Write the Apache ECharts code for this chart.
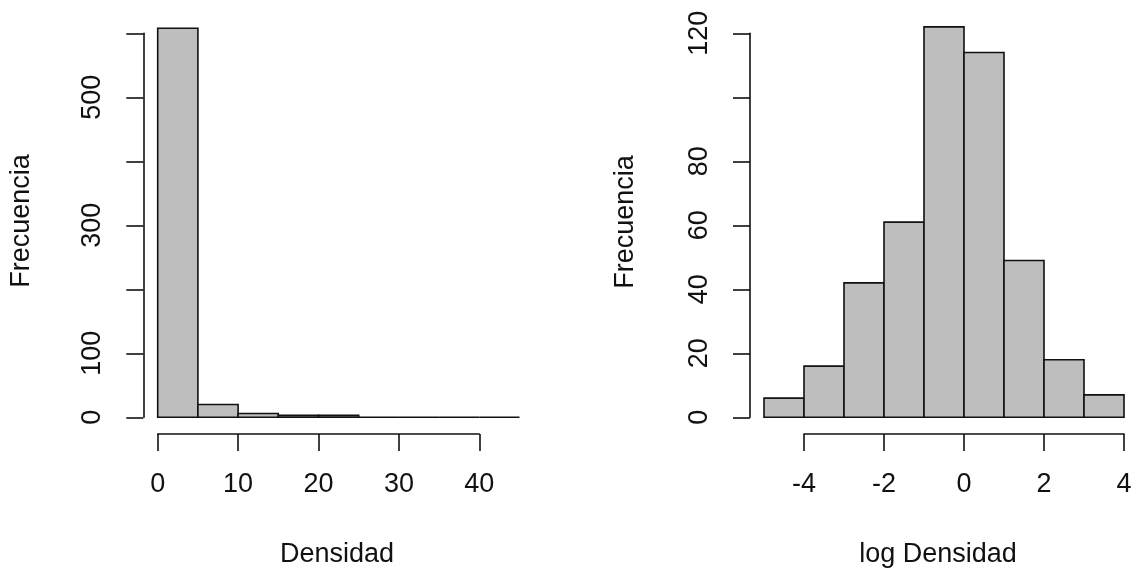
<!DOCTYPE html>
<html>
<head>
<meta charset="utf-8">
<script src="https://cdn.jsdelivr.net/npm/echarts@6/dist/echarts.min.js"></script>
<style>
  html, body { margin: 0; padding: 0; background: #fff; }
  #chart { width: 1135px; height: 576px; }
</style>
</head>
<body>
<div id="chart"></div>
<script>
// Histogram of Densidad (bin edges and counts)
const densBreaks = [0, 5, 10, 15, 20, 25, 30, 35, 40, 45];
const densCounts = [608, 20, 6, 3, 3, 0, 0, 0, 0];
const densXTicks = [0, 10, 20, 30, 40];
const densYTicks = [0, 100, 300, 500];

// Histogram of log Densidad
const logBreaks = [-5, -4, -3, -2, -1, 0, 1, 2, 3, 4];
const logCounts = [6, 16, 42, 61, 122, 114, 49, 18, 7];
const logXTicks = [-4, -2, 0, 2, 4];
const logYTicks = [0, 20, 40, 60, 80, 120];

const FONT = '"Liberation Sans", Arial, sans-serif';
const FS = 27;
const INK = '#111';

function binRows(breaks, counts) {
  return counts.map((c, i) => [breaks[i], breaks[i + 1], c]);
}

function renderBin(params, api) {
  const tl = api.coord([api.value(0), api.value(2)]);
  const br = api.coord([api.value(1), 0]);
  return {
    type: 'rect',
    shape: { x: tl[0], y: tl[1], width: br[0] - tl[0], height: br[1] - tl[1] },
    style: { fill: '#BEBEBE', stroke: INK, lineWidth: 1.6 }
  };
}

// panel geometry: pixel position of the origin and pixels per unit
const L = { x0: 157.7, px: 8.04, y0: 417.3, py: 0.64, yAxisX: 143.3 };
const R = { x0: 764, px: 40, y0: 417.3, py: 3.2, yAxisX: 750 };
const AXIS_Y = 434;

const lineStyle = { color: INK, width: 1.6 };

function tickAxis(extra) {
  return Object.assign({
    type: 'value',
    axisLine: { show: true, lineStyle },
    axisTick: { show: true, length: 17, lineStyle },
    splitLine: { show: false },
    axisLabel: { color: INK, fontSize: FS, fontFamily: FONT, margin: 37 }
  }, extra);
}

const chart = echarts.init(document.getElementById('chart'), null, { renderer: 'canvas' });

const dMaxY = 640, lMaxY = 125;
const dXmin = densBreaks[0], dXmax = densBreaks[densBreaks.length - 1];
const lXmin = logBreaks[0], lXmax = logBreaks[logBreaks.length - 1];

chart.setOption({
  animation: false,
  backgroundColor: '#fff',
  textStyle: { fontFamily: FONT },
  grid: [
    // 0: left bars
    { left: L.x0, width: (dXmax - dXmin) * L.px, top: L.y0 - dMaxY * L.py, height: dMaxY * L.py },
    // 1: left x axis (0..40)
    { left: L.x0, width: 40 * L.px, top: AXIS_Y - 10, height: 10 },
    // 2: left y axis (0..600)
    { left: L.yAxisX, width: 10, top: L.y0 - 600 * L.py, height: 600 * L.py },
    // 3: right bars
    { left: R.x0, width: (lXmax - lXmin) * R.px, top: R.y0 - lMaxY * R.py, height: lMaxY * R.py },
    // 4: right x axis (-4..4)
    { left: R.x0 + R.px, width: 8 * R.px, top: AXIS_Y - 10, height: 10 },
    // 5: right y axis (0..120)
    { left: R.yAxisX, width: 10, top: R.y0 - 120 * R.py, height: 120 * R.py }
  ],
  xAxis: [
    { type: 'value', gridIndex: 0, min: dXmin, max: dXmax, show: false },
    tickAxis({ gridIndex: 1, min: 0, max: 40, interval: 10,
      axisLabel: { color: INK, fontSize: FS, fontFamily: FONT, margin: 37,
        formatter: v => densXTicks.includes(v) ? String(v) : '' } }),
    { type: 'value', gridIndex: 2, min: 0, max: 1, show: false },
    { type: 'value', gridIndex: 3, min: lXmin, max: lXmax, show: false },
    tickAxis({ gridIndex: 4, min: -4, max: 4, interval: 2,
      axisLabel: { color: INK, fontSize: FS, fontFamily: FONT, margin: 37,
        formatter: v => logXTicks.includes(v) ? String(v) : '' } }),
    { type: 'value', gridIndex: 5, min: 0, max: 1, show: false }
  ],
  yAxis: [
    { type: 'value', gridIndex: 0, min: 0, max: dMaxY, show: false },
    { type: 'value', gridIndex: 1, min: 0, max: 1, show: false },
    tickAxis({ gridIndex: 2, min: 0, max: 600, interval: 100,
      axisLabel: { color: INK, fontSize: FS, fontFamily: FONT, margin: 37, rotate: 90,
        formatter: v => densYTicks.includes(v) ? String(v) : '' } }),
    { type: 'value', gridIndex: 3, min: 0, max: lMaxY, show: false },
    { type: 'value', gridIndex: 4, min: 0, max: 1, show: false },
    tickAxis({ gridIndex: 5, min: 0, max: 120, interval: 20,
      axisLabel: { color: INK, fontSize: FS, fontFamily: FONT, margin: 37, rotate: 90,
        formatter: v => logYTicks.includes(v) ? String(v) : '' } })
  ],
  series: [
    { type: 'custom', xAxisIndex: 0, yAxisIndex: 0, renderItem: renderBin,
      encode: { x: [0, 1], y: 2 }, data: binRows(densBreaks, densCounts), clip: false },
    { type: 'custom', xAxisIndex: 3, yAxisIndex: 3, renderItem: renderBin,
      encode: { x: [0, 1], y: 2 }, data: binRows(logBreaks, logCounts), clip: false }
  ],
  graphic: [
    { type: 'text', x: 22, y: 221, rotation: Math.PI / 2,
      style: { text: 'Frecuencia', font: FS + 'px ' + FONT, fill: INK, align: 'center', verticalAlign: 'middle' } },
    { type: 'text', x: 626, y: 222, rotation: Math.PI / 2,
      style: { text: 'Frecuencia', font: FS + 'px ' + FONT, fill: INK, align: 'center', verticalAlign: 'middle' } },
    { type: 'text', x: 337, y: 555,
      style: { text: 'Densidad', font: FS + 'px ' + FONT, fill: INK, align: 'center', verticalAlign: 'middle' } },
    { type: 'text', x: 938, y: 555,
      style: { text: 'log Densidad', font: FS + 'px ' + FONT, fill: INK, align: 'center', verticalAlign: 'middle' } }
  ]
});
</script>
</body>
</html>
